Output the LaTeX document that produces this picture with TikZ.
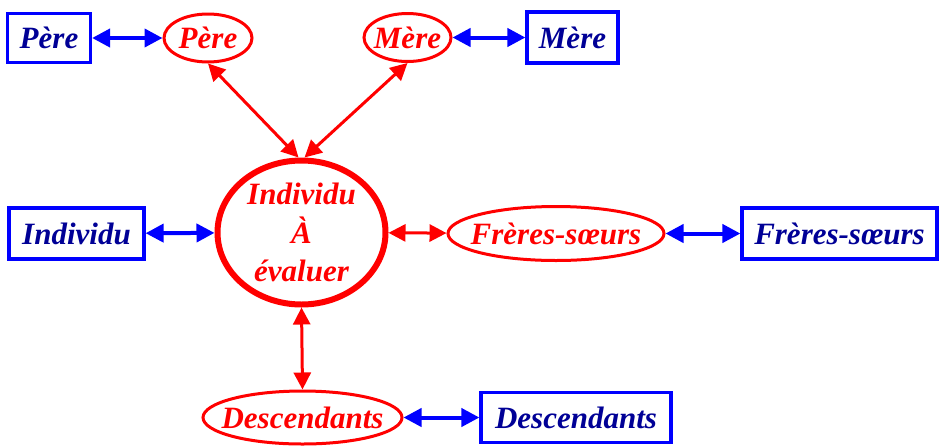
\documentclass[tikz,border=0pt]{standalone}
\usepackage{fontspec}
\setmainfont{Liberation Serif}
\usetikzlibrary{shapes.geometric,arrows.meta}
\definecolor{navy}{RGB}{0,0,150}
\definecolor{boxblue}{RGB}{0,0,255}
\definecolor{fred}{RGB}{255,0,0}
\tikzset{
	lbl/.style={font=\fontsize{15.5}{19.25}\selectfont\bfseries\itshape},
	bluebox/.style={lbl, draw=boxblue, line width=1.6pt, text=navy, rectangle, inner sep=0pt},
	redell/.style={lbl, draw=fred, line width=1.5pt, text=fred, ellipse, inner sep=0pt},
	bluearr/.style={draw=boxblue, line width=2pt, {Triangle[length=9pt,width=9pt]}-{Triangle[length=9pt,width=9pt]}},
	redarr/.style={draw=fred, line width=1.5pt, {Triangle[length=8.5pt,width=8.5pt]}-{Triangle[length=8.5pt,width=8.5pt]}}
}
\begin{document}
\begin{tikzpicture}[x=0.5pt,y=-0.5pt]
	\useasboundingbox (0,0) rectangle (940,445);
	% centre
	\node[redell, line width=3pt, minimum width=84pt, minimum height=72pt, align=center] (indiv) at (301.5,232.5) {Individu\\À\\évaluer};
	% parents
	\node[redell, minimum width=44pt, minimum height=24pt] (pereE) at (208,38) {\makebox[0pt]{Père}};
	\node[bluebox, minimum width=41.5pt, minimum height=24.5pt] (pereB) at (49,38) {Père};
	\node[redell, minimum width=43.5pt, minimum height=24pt] (mereE) at (407.5,37.5) {\makebox[0pt]{Mère}};
	\node[bluebox, minimum width=45.5pt, minimum height=25.5pt] (mereB) at (572.5,37.5) {Mère};
	% individu
	\node[bluebox, minimum width=67.5pt, minimum height=25.5pt] (indivB) at (76.5,233.5) {Individu};
	% freres-soeurs
	\node[redell, minimum width=108pt, minimum height=27pt] (freresE) at (556,233.5) {\makebox[0pt]{Frères-sœurs}};
	\node[bluebox, minimum width=97.5pt, minimum height=25.5pt] (freresB) at (839.5,233.5) {Frères-sœurs};
	% descendants
	\node[redell, minimum width=99.5pt, minimum height=26.5pt] (descE) at (302.5,417.5) {\makebox[0pt]{Descendants}};
	\node[bluebox, minimum width=95pt, minimum height=25pt] (descB) at (576,417.5) {Descendants};
	% fleches
	\draw[bluearr] (pereB) -- (pereE);
	\draw[bluearr] (mereE) -- (mereB);
	\draw[bluearr] (indivB) -- (indiv);
	\draw[bluearr] (freresE) -- (freresB);
	\draw[bluearr] (descE) -- (descB);
	\draw[redarr] (pereE.south) -- ([xshift=-1.5pt]indiv.north);
	\draw[redarr] (mereE.south) -- ([xshift=1.5pt]indiv.north);
	\draw[redarr] (indiv) -- (freresE);
	\draw[redarr] (indiv.south) -- (descE.north);
\end{tikzpicture}
\end{document}
